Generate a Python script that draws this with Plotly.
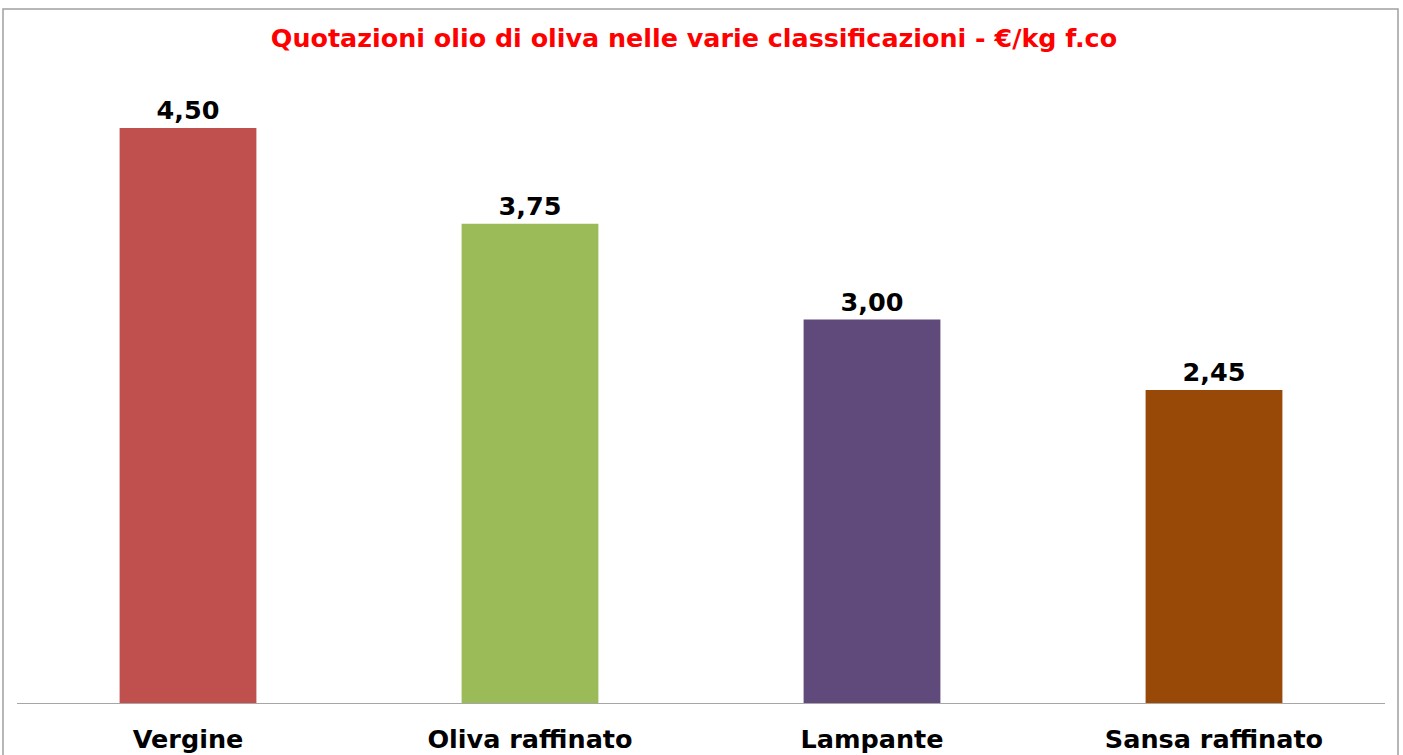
import plotly.graph_objects as go

categories = ["Vergine", "Oliva raffinato", "Lampante", "Sansa raffinato"]
values = [4.50, 3.75, 3.00, 2.45]
colors = ["#C0504D", "#9BBB59", "#604A7B", "#984807"]
labels = [f"{v:.2f}".replace(".", ",") for v in values]

FONT = "DejaVu Sans"

fig = go.Figure()
fig.add_trace(go.Bar(
    x=categories, y=values, marker_color=colors, marker_line_width=0,
    text=labels, textposition="outside", cliponaxis=False,
    textfont=dict(family=FONT, size=25.5, color="black", weight="bold"),
))

W, H = 1403, 755
l, r, t, b = 17, 18, 64, 52
pw, ph = W - l - r, H - t - b

fig.update_layout(
    width=W, height=H,
    margin=dict(l=l, r=r, t=t, b=b, autoexpand=False),
    paper_bgcolor="white", plot_bgcolor="white",
    bargap=0.6, showlegend=False,
    title=dict(text="<b>Quotazioni olio di oliva nelle varie classificazioni - €/kg f.co</b>",
               x=694 / W, xanchor="center", y=1 - 38 / H, yanchor="middle", xref="container", yref="container",
               font=dict(family=FONT, size=25.4, color="#FF0000")),
    xaxis=dict(showline=True, linecolor="#A6A6A6", linewidth=1, ticks="outside", ticklen=13,
               tickcolor="rgba(0,0,0,0)", showgrid=False, automargin=False,
               tickfont=dict(family=FONT, size=25.5, color="black", weight="bold")),
    yaxis=dict(range=[0, 5], visible=False, showgrid=False, automargin=False),
    shapes=[dict(type="rect", xref="paper", yref="paper",
                 x0=(3 - l) / pw, x1=(1398 - l) / pw,
                 y0=(703 - 780) / ph, y1=(703 - 9) / ph,
                 line=dict(color="#A0A0A0", width=1.5), layer="below")],
)

fig.write_html("out.html", config={"displayModeBar": False},
               post_script="document.body.style.margin='0px';")
